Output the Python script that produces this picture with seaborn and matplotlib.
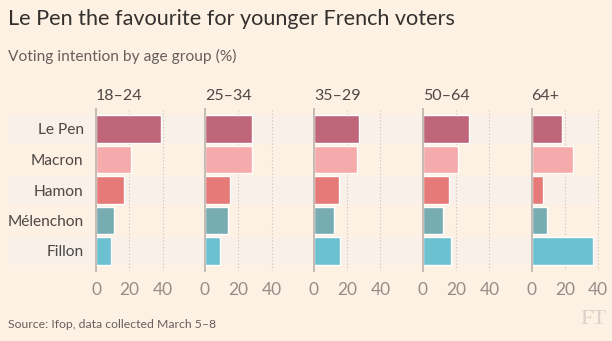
import matplotlib
matplotlib.use("Agg")
import matplotlib.pyplot as plt
import matplotlib.transforms as mtransforms
from matplotlib.patches import Rectangle
import seaborn as sns
import pandas as pd

# ---- data ----
candidates = ["Le Pen", "Macron", "Hamon", "Mélenchon", "Fillon"]
age_groups = ["18–24", "25–34", "35–29", "50–64", "64+"]
v_18_24 = [39, 21, 17, 11, 9]
v_25_34 = [28, 28, 15, 14, 9]
v_35_29 = [27, 26, 15, 12, 16]
v_50_64 = [28, 21, 16, 12, 17]
v_64p = [18, 25, 7, 9, 37]
xticks = [0, 20, 40]
colors = ["#c0667b", "#f5aaab", "#e67a78", "#77adb2", "#6bc1d0"]

series = [v_18_24, v_25_34, v_35_29, v_50_64, v_64p]
rows = []
for age, vals in zip(age_groups, series):
    for c, v in zip(candidates, vals):
        rows.append({"age": age, "candidate": c, "value": v})
df = pd.DataFrame(rows)
palette = dict(zip(candidates, colors))

BG = "#fdf1e4"
BAND = "#f8f0e9"
DARK = "#33302e"
MID = "#66605c"
TICK = "#958e88"

sns.set_theme(style="white")
plt.rcParams["font.family"] = ["Lato", "DejaVu Sans"]

W, H = 612, 341
fig = plt.figure(figsize=(W / 100, H / 100), dpi=100, facecolor=BG)

def fx(px):
    return px / W

def fy(py):
    return 1 - py / H

pxu = 1.667           # pixels per unit
xmax = 42
row_h = 30.5
ylo, yhi = -0.65, 4.65
ax_h = (yhi - ylo) * row_h
yc = 190
top = yc - ax_h / 2
lefts = [96 + 108.9 * i for i in range(5)]

axes = []
for i, (age, left) in enumerate(zip(age_groups, lefts)):
    ax = fig.add_axes([fx(left), fy(top + ax_h), fx(xmax * pxu), ax_h / H])
    ax.set_facecolor("none")
    sub = df[df["age"] == age]
    sns.barplot(data=sub, x="value", y="candidate", hue="candidate",
                palette=palette, order=candidates, hue_order=candidates,
                width=0.9, saturation=1, legend=False, ax=ax, zorder=3)
    ax.set_xlim(0, xmax)
    ax.set_ylim(yhi, ylo)
    ax.set_xticks(xticks)
    ax.set_xticklabels([str(t) for t in xticks], color=TICK, fontsize=12.5)
    ax.tick_params(axis="x", length=0, pad=8)
    for t in [20, 40]:
        ax.axvline(t, color="#cbc3bb", lw=0.8, ls=(0, (1, 2)), zorder=1)
    for s in ["top", "right", "bottom"]:
        ax.spines[s].set_visible(False)
    ax.spines["left"].set_color("#c4bcb4")
    ax.spines["left"].set_linewidth(1.4)
    ax.spines["left"].set_zorder(4)
    ax.set_xlabel("")
    ax.set_ylabel("")
    if i == 0:
        ax.set_yticks(range(len(candidates)))
        ax.set_yticklabels(candidates, color="#4d4845", fontsize=11.2)
        ax.tick_params(axis="y", length=0, pad=9)
    else:
        ax.set_yticks([])
    fig.text(fx(left), fy(96), age, ha="left", va="center",
             fontsize=11.5, color="#4d4845")
    axes.append(ax)

# alternating row bands spanning the whole chart
ax0 = axes[0]
trans = mtransforms.blended_transform_factory(fig.transFigure, ax0.transData)
for r in [0, 2, 4]:
    ax0.add_patch(Rectangle((fx(8), r - 0.45), fx(598) - fx(8), 0.9,
                            transform=trans, facecolor=BAND, edgecolor="none",
                            clip_on=False, zorder=0))

fig.text(fx(8), fy(19), "Le Pen the favourite for younger French voters",
         ha="left", va="center", fontsize=15.6, color=DARK)
fig.text(fx(8), fy(56), "Voting intention by age group (%)",
         ha="left", va="center", fontsize=11.2, color=MID)
fig.text(fx(8), fy(325), "Source: Ifop, data collected March 5–8",
         ha="left", va="center", fontsize=8.8, color=MID)
fig.text(fx(606), fy(320), "FT", ha="right", va="center", fontsize=16,
         color="#d9d1c9", family=["Liberation Serif", "DejaVu Serif"])

fig.savefig("out.png", dpi=100, facecolor=BG)
